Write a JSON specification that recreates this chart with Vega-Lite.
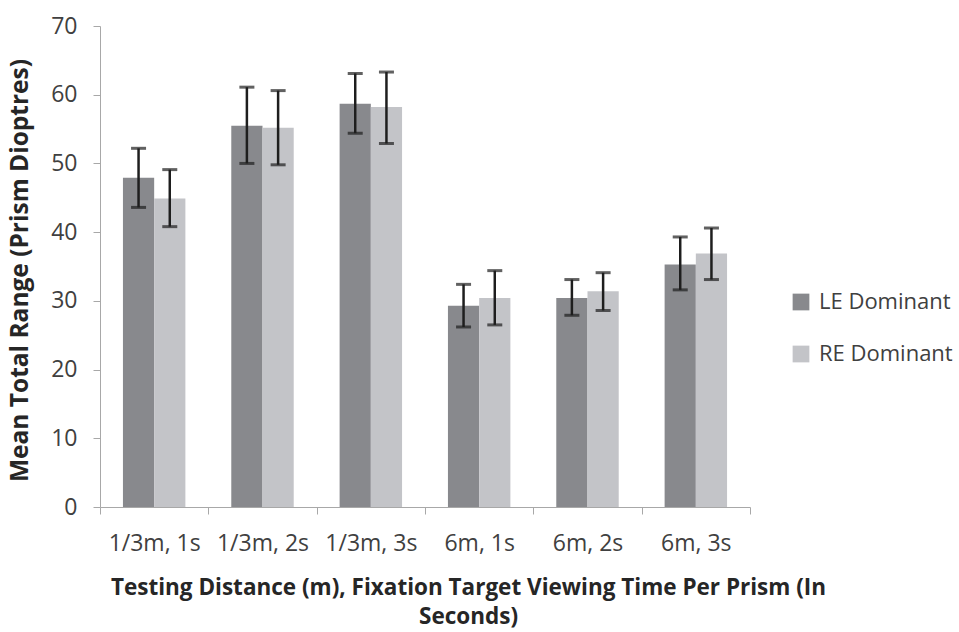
{
  "$schema": "https://vega.github.io/schema/vega-lite/v6.json",
  "width": 650,
  "height": 481,
  "autosize": {"type": "none"},
  "padding": {"left": 100, "top": 26, "right": 209, "bottom": 125},
  "background": "white",
  "config": {
    "font": "Open Sans",
    "view": {"stroke": null},
    "axis": {"grid": false, "domainColor": "#a8a8a8", "tickColor": "#a8a8a8", "labelColor": "#404040", "titleColor": "#262626", "labelFont": "Open Sans", "titleFont": "Open Sans"}
  },
  "data": {
    "values": [
      {"cond": "1/3m, 1s", "group": "LE Dominant", "mean": 47.9, "lo": 43.6, "hi": 52.2},
      {"cond": "1/3m, 1s", "group": "RE Dominant", "mean": 44.9, "lo": 40.8, "hi": 49.1},
      {"cond": "1/3m, 2s", "group": "LE Dominant", "mean": 55.5, "lo": 50.0, "hi": 61.1},
      {"cond": "1/3m, 2s", "group": "RE Dominant", "mean": 55.2, "lo": 49.8, "hi": 60.6},
      {"cond": "1/3m, 3s", "group": "LE Dominant", "mean": 58.7, "lo": 54.4, "hi": 63.1},
      {"cond": "1/3m, 3s", "group": "RE Dominant", "mean": 58.2, "lo": 52.9, "hi": 63.3},
      {"cond": "6m, 1s", "group": "LE Dominant", "mean": 29.3, "lo": 26.2, "hi": 32.4},
      {"cond": "6m, 1s", "group": "RE Dominant", "mean": 30.4, "lo": 26.5, "hi": 34.4},
      {"cond": "6m, 2s", "group": "LE Dominant", "mean": 30.4, "lo": 27.9, "hi": 33.1},
      {"cond": "6m, 2s", "group": "RE Dominant", "mean": 31.4, "lo": 28.6, "hi": 34.1},
      {"cond": "6m, 3s", "group": "LE Dominant", "mean": 35.3, "lo": 31.6, "hi": 39.3},
      {"cond": "6m, 3s", "group": "RE Dominant", "mean": 36.9, "lo": 33.1, "hi": 40.6}
    ]
  },
  "encoding": {
    "x": {
      "field": "cond", "type": "nominal", "sort": null,
      "scale": {"paddingInner": 0, "paddingOuter": 0},
      "axis": {
        "labelAngle": 0, "labelFontSize": 23, "labelPadding": 18, "tickSize": 7, "tickBand": "extent",
        "title": ["Testing Distance (m), Fixation Target Viewing Time Per Prism (In", "Seconds)"],
        "titleFontSize": 22.5, "titleFontWeight": "bold", "titleX": 368, "titleY": 69,
        "titleAlign": "center", "titleBaseline": "top", "titleLineHeight": 29
      }
    },
    "xOffset": {"field": "group", "type": "nominal", "scale": {"paddingInner": 0, "paddingOuter": 0.735}}
  },
  "layer": [
    {
      "mark": {"type": "bar"},
      "encoding": {
        "y": {
          "field": "mean", "type": "quantitative",
          "scale": {"domain": [0, 70]},
          "axis": {
            "values": [0, 10, 20, 30, 40, 50, 60, 70], "labelFontSize": 23, "labelPadding": 16, "tickSize": 7,
            "title": "Mean Total Range (Prism Dioptres)", "titleFontSize": 24.5, "titleFontWeight": "bold",
            "titleAngle": 270, "titleX": -80, "titleY": 244, "titleAlign": "center", "titleBaseline": "middle"
          }
        },
        "color": {
          "field": "group", "type": "nominal",
          "scale": {"domain": ["LE Dominant", "RE Dominant"], "range": ["#88898d", "#c3c4c8"]},
          "legend": {
            "title": null, "orient": "none", "legendX": 690, "legendY": 265,
            "symbolType": "square", "symbolSize": 280, "symbolStrokeWidth": 0,
            "labelFontSize": 22, "labelColor": "#404040", "labelOffset": 7, "rowPadding": 30, "padding": 0
          }
        }
      }
    },
    {
      "mark": {"type": "rule", "color": "#1e1e1e", "strokeWidth": 2.5},
      "encoding": {
        "y": {"field": "lo", "type": "quantitative"},
        "y2": {"field": "hi"}
      }
    },
    {
      "mark": {"type": "tick", "color": "#1e1e1e", "thickness": 3, "size": 15},
      "encoding": {"y": {"field": "lo", "type": "quantitative"}}
    },
    {
      "mark": {"type": "tick", "color": "#1e1e1e", "thickness": 3, "size": 15},
      "encoding": {"y": {"field": "hi", "type": "quantitative"}}
    }
  ]
}
